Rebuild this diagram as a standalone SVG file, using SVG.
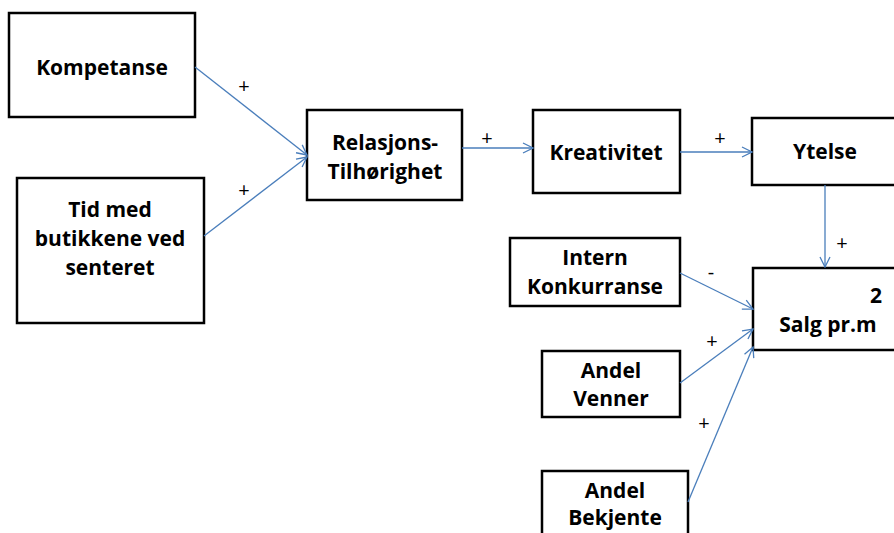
<svg xmlns="http://www.w3.org/2000/svg" width="894" height="533" viewBox="0 0 894 533">
<defs>
<marker id="arr" markerWidth="12" markerHeight="12" refX="11" refY="6" orient="auto" markerUnits="userSpaceOnUse">
<path d="M1,1 L11,6 L1,11" fill="none" stroke="#4a7ebb" stroke-width="1.3"/>
</marker>
<style>
.box{fill:#fff;stroke:#000;stroke-width:2.5}
.t{font-family:"Open Sans","Liberation Sans",Arial,sans-serif;font-weight:bold;font-size:21px;fill:#000;text-anchor:middle}
.lbl{font-family:"Open Sans","Liberation Sans",Arial,sans-serif;font-size:20px;fill:#000;text-anchor:middle}
.c{stroke:#4a7ebb;stroke-width:1.3;fill:none;marker-end:url(#arr)}
</style>
</defs>
<rect width="894" height="533" fill="#fff"/>
<g id="kompetanse"><rect class="box" x="9" y="13" width="186" height="104"/><text class="t" x="102" y="75">Kompetanse</text></g>
<g id="tid"><rect class="box" x="17" y="178" width="187" height="145"/><text class="t" x="110" y="217">Tid med</text><text class="t" x="110" y="246">butikkene ved</text><text class="t" x="110" y="275">senteret</text></g>
<g id="relasjons"><rect class="box" x="307" y="110" width="155" height="90"/><text class="t" x="385" y="150">Relasjons-</text><text class="t" x="385" y="179">Tilhørighet</text></g>
<g id="kreativitet"><rect class="box" x="533" y="110" width="147" height="83"/><text class="t" x="606" y="160">Kreativitet</text></g>
<g id="ytelse"><rect class="box" x="752" y="118" width="150" height="67"/><text class="t" x="825" y="159">Ytelse</text></g>
<g id="salg"><rect class="box" x="753" y="268" width="150" height="82"/><text class="t" x="876" y="303">2</text><text class="t" x="828" y="332">Salg pr.m</text></g>
<g id="intern"><rect class="box" x="510" y="238" width="170" height="68"/><text class="t" x="595" y="265">Intern</text><text class="t" x="595" y="294">Konkurranse</text></g>
<g id="venner"><rect class="box" x="542" y="351" width="138" height="66"/><text class="t" x="611" y="378">Andel</text><text class="t" x="611" y="406">Venner</text></g>
<g id="bekjente"><rect class="box" x="542" y="471" width="146" height="80"/><text class="t" x="615" y="498">Andel</text><text class="t" x="615" y="525">Bekjente</text></g>
<g id="connectors">
<line class="c" x1="195" y1="67" x2="307" y2="155"/>
<line class="c" x1="204" y1="236" x2="307" y2="157"/>
<line class="c" x1="462" y1="148" x2="533" y2="148"/>
<line class="c" x1="680" y1="152" x2="752" y2="152"/>
<line class="c" x1="825" y1="185" x2="825" y2="267"/>
<line class="c" x1="680" y1="273" x2="753" y2="309"/>
<line class="c" x1="680" y1="383" x2="753" y2="329"/>
<line class="c" x1="688" y1="502" x2="753" y2="347"/>
<text class="lbl" x="244" y="93">+</text>
<text class="lbl" x="244" y="197">+</text>
<text class="lbl" x="487" y="145">+</text>
<text class="lbl" x="720" y="145">+</text>
<text class="lbl" x="842" y="250">+</text>
<text class="lbl" x="711" y="279">-</text>
<text class="lbl" x="712" y="348">+</text>
<text class="lbl" x="704" y="430">+</text>
</g>
</svg>
